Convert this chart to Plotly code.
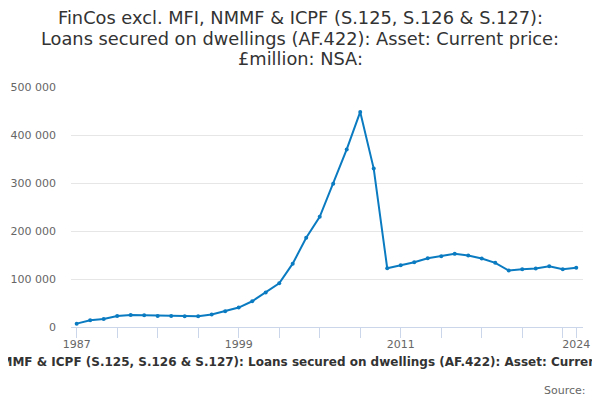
import plotly.graph_objects as go

# annual values (GBP million)
years = list(range(1987, 2025))
loans = [7000, 14000, 16700, 23000, 25000, 24400, 23000, 23000, 22500, 22500,
         26000, 32800, 40500, 53600, 71800, 91200, 132000, 185800, 229600, 298500,
         370000, 448000, 330000, 122500, 128800, 135000, 143400, 147600, 152400, 149000,
         142800, 133600, 117700, 120500, 122000, 126700, 120500, 123200]

title_lines = ["FinCos excl. MFI, NMMF & ICPF (S.125, S.126 & S.127):",
               "Loans secured on dwellings (AF.422): Asset: Current price:",
               "£million: NSA:"]
caption = ("FinCos excl. MFI, NMMF & ICPF (S.125, S.126 & S.127): Loans secured on "
           "dwellings (AF.422): Asset: Current price: £million: NSA:")
x_labels = [1987, 1999, 2011, 2024]
y_ticks = [0, 100000, 200000, 300000, 400000, 500000]

line_col = "#0b7bc1"
axis_col = "#ccd6eb"
grid_col = "#e6e6e6"
font = "DejaVu Sans"

fig = go.Figure()
fig.add_trace(go.Scatter(x=years, y=loans, mode="lines+markers",
                         line=dict(color=line_col, width=2),
                         marker=dict(color=line_col, size=4),
                         showlegend=False))

# the page adds an 8px body margin, so the margins are pulled in by 8px
fig.update_layout(
    width=600, height=400,
    margin=dict(l=63, r=25, t=79, b=81),
    paper_bgcolor="white", plot_bgcolor="white",
    separators=". ",
    font=dict(family=font, color="#666666", size=11),
)
fig.update_xaxes(range=[1986.58, 2024.5], tickvals=x_labels,
                 ticktext=[str(v) for v in x_labels],
                 showgrid=False, zeroline=False, automargin=False,
                 showline=True, linecolor=axis_col, linewidth=1,
                 ticks="outside", ticklen=10, tickcolor=axis_col,
                 ticklabelstandoff=-3,
                 minor=dict(tick0=1987, dtick=3, ticks="outside", ticklen=10,
                            tickcolor=axis_col, showgrid=False))
fig.update_yaxes(range=[0, 500000], tickvals=y_ticks, tickformat=",d",
                 showgrid=True, gridcolor=grid_col, zeroline=False,
                 showline=False, ticks="", ticklabelstandoff=14,
                 automargin=False)

for line, ty in zip(title_lines, [1.2875, 1.203, 1.118]):
    fig.add_annotation(text=line, xref="paper", yref="paper",
                       x=0.4473, y=ty, xanchor="center", yanchor="middle",
                       showarrow=False,
                       font=dict(family=font, size=17.8, color="#333333"))

fig.add_annotation(text="<b>" + caption + "</b>", xref="paper", yref="paper",
                   x=0.4652, y=-0.146, xanchor="center", yanchor="middle",
                   showarrow=False,
                   font=dict(family=font, size=12, color="#333333"))
fig.add_annotation(text="Source:", xref="paper", x=1.0098, xanchor="right",
                   yref="paper", y=-0.2625, yanchor="middle", showarrow=False,
                   font=dict(family=font, size=11, color="#666666"))

fig.write_html("out.html")
